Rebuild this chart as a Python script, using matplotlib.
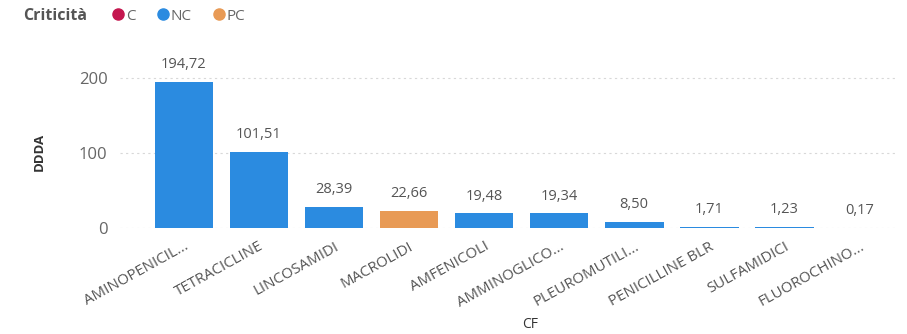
import matplotlib.pyplot as plt
from matplotlib.lines import Line2D

plt.rcParams['font.family'] = ['Open Sans', 'DejaVu Sans']

categorie = ['AMINOPENICIL...', 'TETRACICLINE', 'LINCOSAMIDI', 'MACROLIDI', 'AMFENICOLI',
             'AMMINOGLICO...', 'PLEUROMUTILI...', 'PENICILLINE BLR', 'SULFAMIDICI', 'FLUOROCHINO...']
ddda = [194.72, 101.51, 28.39, 22.66, 19.48, 19.34, 8.50, 1.71, 1.23, 0.17]
criticita = ['NC', 'NC', 'NC', 'PC', 'NC', 'NC', 'NC', 'NC', 'NC', 'C']

colori = {'C': '#C4174F', 'NC': '#2B8BE0', 'PC': '#E89A55'}

fig = plt.figure(figsize=(9.07, 3.34), dpi=100)
ax = fig.add_axes([120 / 907, 106 / 334, 777 / 907, 168 / 334])

x = range(len(categorie))
ax.bar(x, ddda, width=0.78, color=[colori[c] for c in criticita], zorder=3)

for xi, v in zip(x, ddda):
    ax.annotate(f"{v:.2f}".replace('.', ','), (xi, v), xytext=(0, 7), textcoords='offset points',
                ha='center', va='bottom', fontsize=10.5, color='#555555')

ax.set_xlim(-0.85, len(categorie) - 0.5)
ax.set_ylim(0, 224)
ax.set_yticks([0, 100, 200])
ax.grid(axis='y', linestyle=(0, (2, 3)), color='#d8d8d8', linewidth=0.8, zorder=0)
for s in ax.spines.values():
    s.set_visible(False)
ax.tick_params(length=0, colors='#666666')
ax.tick_params(axis='y', labelsize=12, pad=9)
ax.set_xticks(list(x))
ax.set_xticklabels(categorie, rotation=29, ha='right', rotation_mode='anchor',
                   fontsize=10.8, color='#555555')
ax.tick_params(axis='x', pad=8)

ax.set_ylabel('DDDA', fontsize=9.5, fontweight='bold', color='#333333')
ax.yaxis.set_label_coords(-0.095, 0.45)
ax.set_xlabel('CF', fontsize=10, color='#333333', va='center')
ax.xaxis.set_label_coords(0.528, -0.575)

# legenda
fig.text(0.026, 0.952, 'Criticità', fontsize=11.5, fontweight='bold', color='#555555', va='center')
handles = [Line2D([], [], marker='o', linestyle='', markersize=8, color=colori[k]) for k in ['C', 'NC', 'PC']]
fig.legend(handles, ['C', 'NC', 'PC'], loc='center left', bbox_to_anchor=(0.1235, 0.952),
           ncol=3, frameon=False, fontsize=11, handletextpad=0.1, columnspacing=1.4,
           handlelength=0.8, labelcolor='#666666', borderaxespad=0, borderpad=0)

fig.savefig('out.png', dpi=100, facecolor='white')
